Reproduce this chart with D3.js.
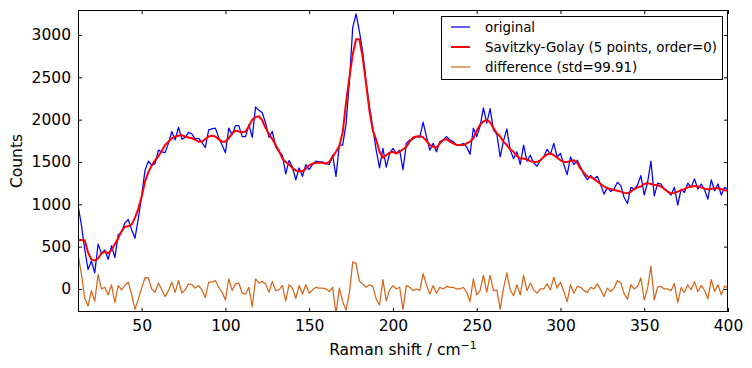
<!DOCTYPE html>
<html>
<head>
<meta charset="utf-8">
<script src="https://cdn.jsdelivr.net/npm/d3@7"></script>
<style>
  body { margin: 0; background: #fff; }
  svg { display: block; font-family: "DejaVu Sans", sans-serif; }
</style>
</head>
<body>
<svg id="chart" width="752" height="368"></svg>
<script>
// Raman shift grid: 12 .. 400 cm-1, every 2 cm-1
const ramanShift = d3.range(12, 401, 2);

// counts, 10 per row (row start x in comment)
const original = [
    990, 760, 470, 230, 330, 190, 530, 420, 460, 350,         // 12
    510, 370, 640, 670, 780, 820, 700, 600, 830, 1100,        // 32
    1400, 1510, 1460, 1480, 1640, 1620, 1610, 1720, 1860, 1760, // 52
    1910, 1770, 1790, 1850, 1830, 1770, 1780, 1730, 1670, 1880, // 72
    1890, 1900, 1790, 1700, 1610, 1900, 1820, 1930, 1930, 1800, // 92
    1800, 1940, 1790, 2150, 2110, 2080, 1960, 1790, 1860, 1680, // 112
    1620, 1580, 1360, 1520, 1440, 1290, 1430, 1330, 1470, 1410, // 132
    1470, 1510, 1500, 1500, 1480, 1470, 1580, 1330, 1700, 1700, // 152
    1950, 2450, 3090, 3250, 3040, 2790, 2440, 2150, 1900, 1640, // 172
    1430, 1660, 1440, 1600, 1660, 1600, 1640, 1410, 1720, 1760, // 192
    1770, 1800, 1790, 1970, 1800, 1640, 1720, 1620, 1740, 1760, // 212
    1800, 1760, 1740, 1700, 1700, 1720, 1680, 1590, 1900, 1800, // 232
    1920, 2140, 1960, 2130, 1880, 1830, 1560, 1750, 1890, 1640, // 252
    1540, 1620, 1470, 1700, 1510, 1580, 1490, 1450, 1520, 1560, // 272
    1650, 1590, 1720, 1560, 1600, 1470, 1350, 1560, 1470, 1520, // 292
    1440, 1350, 1290, 1340, 1300, 1330, 1230, 1120, 1200, 1150, // 312
    1180, 1260, 1220, 1080, 1010, 1200, 1180, 1230, 1340, 1110, // 332
    1260, 1510, 1100, 1250, 1240, 1180, 1150, 1110, 1200, 990,  // 352
    1180, 1140, 1250, 1200, 1300, 1180, 1240, 1170, 1060, 1290, // 372
    1160, 1240, 1110, 1200, 1170                                 // 392
];

const smoothed = [
    578, 578, 575, 430, 350, 335, 360, 420, 440, 420,
    460, 530, 600, 680, 736, 740, 760, 840, 950, 1090,
    1267, 1380, 1460, 1520, 1570, 1630, 1700, 1740, 1780, 1800,
    1810, 1818, 1800, 1790, 1780, 1760, 1740, 1740, 1770, 1800,
    1810, 1800, 1770, 1740, 1740, 1780, 1840, 1870, 1860, 1850,
    1860, 1920, 2000, 2030, 2040, 1990, 1900, 1830, 1770, 1700,
    1630, 1540, 1500, 1470, 1430, 1400, 1390, 1390, 1420, 1460,
    1480, 1490, 1490, 1490, 1480, 1500, 1560, 1620, 1690, 1850,
    2200, 2500, 2770, 2950, 2950, 2730, 2420, 2100, 1870, 1760,
    1620, 1550, 1580, 1610, 1620, 1600, 1620, 1650, 1680, 1740,
    1790, 1800, 1807, 1790, 1750, 1700, 1680, 1670, 1720, 1760,
    1770, 1740, 1720, 1700, 1700, 1700, 1720, 1740, 1780, 1870,
    1940, 1980, 1996, 1970, 1900, 1840, 1800, 1740, 1700, 1650,
    1620, 1570, 1540, 1540, 1530, 1510, 1500, 1500, 1520, 1560,
    1590, 1600, 1580, 1550, 1520, 1500, 1500, 1510, 1520, 1490,
    1420, 1370, 1330, 1320, 1300, 1270, 1240, 1210, 1190, 1180,
    1170, 1160, 1150, 1135, 1130, 1150, 1180, 1200, 1210, 1240,
    1250, 1240, 1230, 1225, 1210, 1180, 1150, 1130, 1135, 1150,
    1165, 1180, 1200, 1210, 1216, 1210, 1200, 1185, 1177, 1180,
    1190, 1190, 1180, 1165, 1160
];

// difference = original - smoothed (as in the legend)
const difference = original.map((v, i) => v - smoothed[i]);

const xTicks = [50, 100, 150, 200, 250, 300, 350, 400];
const yTicks = [0, 500, 1000, 1500, 2000, 2500, 3000];
const yRange = [-272, 3295];

const seriesNames = ["original", "Savitzky-Golay (5 points, order=0)", "difference (std=99.91)"];
const seriesColors = ["#0000ff", "#ff0000", "#d8661a"];
const seriesWidths = [1.25, 2, 1.25];

const width = 752, height = 368;
const margin = { top: 10, right: 24, bottom: 56, left: 78 };
const plotW = width - margin.left - margin.right;
const plotH = height - margin.top - margin.bottom;

const svg = d3.select("#chart");

const x = d3.scaleLinear().domain([12, 400]).range([margin.left, margin.left + plotW]);
const y = d3.scaleLinear().domain(yRange).range([margin.top + plotH, margin.top]);

svg.append("defs").append("clipPath").attr("id", "plot-clip")
    .append("rect")
    .attr("x", margin.left).attr("y", margin.top)
    .attr("width", plotW).attr("height", plotH);

const line = d3.line()
    .x((d, i) => x(ramanShift[i]))
    .y(d => y(d));

const lines = svg.append("g").attr("clip-path", "url(#plot-clip)");
[original, smoothed, difference].forEach((series, k) => {
    lines.append("path")
        .datum(series)
        .attr("fill", "none")
        .attr("stroke", seriesColors[k])
        .attr("stroke-width", seriesWidths[k])
        .attr("stroke-linejoin", "round")
        .attr("d", line);
});

// axes, ticks pointing inward on all four sides
const fontSize = 15.5;
svg.append("g")
    .attr("transform", `translate(0,${margin.top + plotH})`)
    .call(d3.axisBottom(x).tickValues(xTicks).tickSizeInner(-4).tickSizeOuter(0).tickPadding(8));
svg.append("g")
    .attr("transform", `translate(${margin.left},0)`)
    .call(d3.axisLeft(y).tickValues(yTicks).tickFormat(d3.format("d"))
        .tickSizeInner(-4).tickSizeOuter(0).tickPadding(7));
svg.append("g")
    .attr("transform", `translate(0,${margin.top})`)
    .call(d3.axisTop(x).tickValues(xTicks).tickSizeInner(-4).tickSizeOuter(0).tickFormat(""));
svg.append("g")
    .attr("transform", `translate(${margin.left + plotW},0)`)
    .call(d3.axisRight(y).tickValues(yTicks).tickSizeInner(-4).tickSizeOuter(0).tickFormat(""));

svg.selectAll(".domain").remove();
svg.selectAll(".tick line").attr("stroke", "#000");
svg.selectAll(".tick text")
    .attr("fill", "#000")
    .style("font-size", fontSize + "px")
    .style("font-family", '"DejaVu Sans", sans-serif');

// frame
svg.append("rect")
    .attr("x", margin.left + 0.5).attr("y", margin.top + 0.5)
    .attr("width", plotW - 1).attr("height", plotH - 1)
    .attr("fill", "none").attr("stroke", "#000").attr("stroke-width", 1);

// axis labels
const xLabel = svg.append("text")
    .attr("x", margin.left + plotW / 2)
    .attr("y", 355)
    .attr("text-anchor", "middle")
    .style("font-size", fontSize + "px");
xLabel.append("tspan").text("Raman shift / cm");
xLabel.append("tspan").attr("dy", -6).style("font-size", "11px").text("\u22121");

svg.append("text")
    .attr("transform", `translate(22,${margin.top + plotH / 2}) rotate(-90)`)
    .attr("text-anchor", "middle")
    .style("font-size", fontSize + "px")
    .text("Counts");

// legend
const legend = svg.append("g").attr("transform", "translate(441.5,16.5)");
legend.append("rect")
    .attr("width", 281).attr("height", 63)
    .attr("fill", "#fff").attr("stroke", "#000").attr("stroke-width", 1);
seriesNames.forEach((name, k) => {
    const cy = 10.5 + k * 20;
    legend.append("line")
        .attr("x1", 9.5).attr("x2", 28.5)
        .attr("y1", cy).attr("y2", cy)
        .attr("stroke", seriesColors[k])
        .attr("stroke-width", seriesWidths[k]);
    legend.append("text")
        .attr("x", 43.5).attr("y", cy + 4.8)
        .style("font-size", "13.4px")
        .text(name);
});
</script>
</body>
</html>
